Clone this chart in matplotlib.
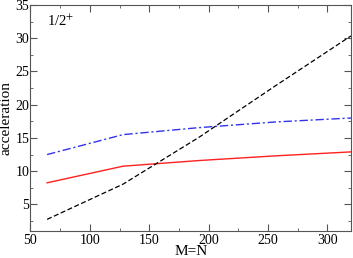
import matplotlib
matplotlib.use("Agg")
import matplotlib.pyplot as plt
from matplotlib.ticker import MultipleLocator

plt.rcParams['font.family'] = ['Liberation Serif', 'DejaVu Serif']
plt.rcParams['mathtext.fontset'] = 'stix'

size = [64, 128, 192, 256, 320]
acc_dashed = [2.75, 8.05, 15.1, 22.8, 30.35]
acc_dashdot = [12.5, 15.5, 16.55, 17.4, 18.0]
acc_solid = [8.25, 10.75, 11.6, 12.3, 12.9]

fig = plt.figure(figsize=(3.53, 2.58), dpi=100)
ax = fig.add_axes([0.0864, 0.1047, 0.9078, 0.8759])

ax.plot(size, acc_solid, color='#ff2020', lw=1.0)
ax.plot(size, acc_dashdot, color='#3333ee', lw=1.0, dashes=(6, 2, 1.5, 2))
ax.plot(size, acc_dashed, color='black', lw=0.9, dashes=(4, 2))

ax.set_xlim(50, 320)
ax.set_ylim(1, 35)
ax.xaxis.set_major_locator(MultipleLocator(50))
ax.xaxis.set_minor_locator(MultipleLocator(25))
ax.yaxis.set_major_locator(MultipleLocator(5))
ax.yaxis.set_minor_locator(MultipleLocator(2.5))
ax.tick_params(which='both', direction='in', top=True, right=True,
               labelsize=10, color='#555555')
ax.tick_params(axis='x', pad=2.5)
ax.tick_params(axis='y', pad=1)
ax.tick_params(which='major', length=5)
ax.tick_params(which='minor', length=2.5)
for s in ax.spines.values():
    s.set_color('#555555')

ax.set_xlabel('M=N', fontsize=11)
ax.set_ylabel('acceleration', fontsize=11)
ax.xaxis.set_label_coords(0.5, -0.064)
ax.yaxis.set_label_coords(-0.056, 0.5)
ax.text(0.05, 0.93, r'1/2$^{+}$', transform=ax.transAxes, fontsize=10.5,
        ha='left', va='center')

fig.savefig('out.png', dpi=100)
